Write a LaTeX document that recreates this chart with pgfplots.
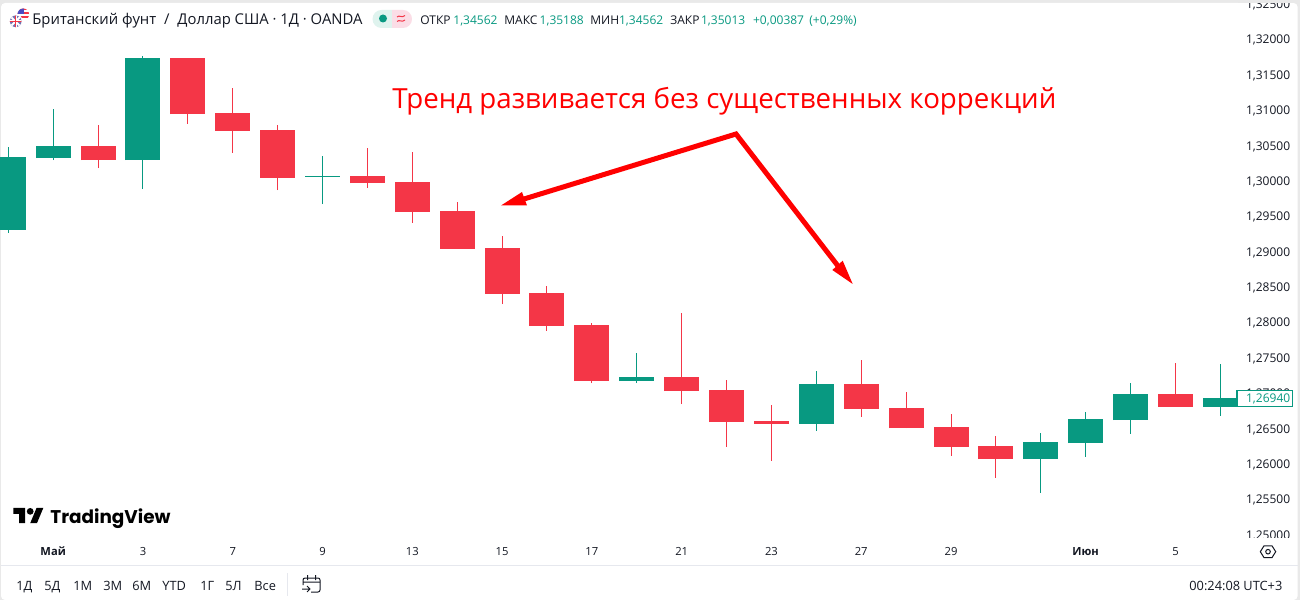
\documentclass[border=0pt]{standalone}
\usepackage{fontspec}
\setmainfont{Open Sans}
\newfontfamily\logofont{Poppins}
\usepackage{pgfplots}
\usepackage{pgfplotstable}
\pgfplotsset{compat=1.18}

\definecolor{tvgreen}{HTML}{089981}
\definecolor{tvred}{HTML}{F43647}
\definecolor{tvtext}{HTML}{131722}
\definecolor{tvline}{HTML}{E6E8EE}
\definecolor{tvband}{HTML}{E9E9E9}
\definecolor{pillgreen}{HTML}{DFF3EE}
\definecolor{pillred}{HTML}{FBDDE6}

% n = bar index, top/bot = body, hi/lo = wick (prices)
\pgfplotstableread{
n  hi      top     bot     lo
0  1.30467 1.30326 1.29294 1.29256
1  1.31004 1.30481 1.30311 1.30283
3  1.31753 1.31724 1.30283 1.29873
7  1.30340 1.30057 1.30043 1.29661
14 1.27556 1.27217 1.27160 1.27132
18 1.27302 1.27118 1.26553 1.26454
23 1.26426 1.26299 1.26058 1.25578
24 1.26722 1.26624 1.26284 1.26087
25 1.27132 1.26977 1.26609 1.26412
27 1.27401 1.26920 1.26793 1.26666
}\upbars
\pgfplotstableread{
n  hi      top     bot     lo
2  1.30778 1.30481 1.30283 1.30170
4  1.31724 1.31724 1.30933 1.30792
5  1.31301 1.30947 1.30693 1.30382
6  1.30778 1.30707 1.30029 1.29859
8  1.30453 1.30057 1.29958 1.29888
9  1.30396 1.29972 1.29548 1.29393
10 1.29690 1.29563 1.29026 1.29026
11 1.29209 1.29040 1.28390 1.28248
12 1.28503 1.28404 1.27938 1.27867
13 1.27980 1.27952 1.27160 1.27132
15 1.28121 1.27217 1.27019 1.26835
16 1.27175 1.27033 1.26581 1.26228
17 1.26821 1.26595 1.26553 1.26030
19 1.27457 1.27118 1.26765 1.26652
20 1.27005 1.26779 1.26496 1.26496
21 1.26694 1.26510 1.26228 1.26101
22 1.26383 1.26242 1.26058 1.25790
26 1.27415 1.26977 1.26793 1.26793
}\downbars

\newcommand{\candles}[2]{%
  \addplot[draw=none, mark=none, forget plot, error bars/.cd, y dir=plus, y explicit, error mark=none,
    error bar style={draw=#2, line width=0.5pt}]
    table[x=n, y=lo, y error expr=\thisrow{hi}-\thisrow{lo}] {#1};
  \addplot[draw=none, mark=none, forget plot, error bars/.cd, y dir=plus, y explicit, error mark=none,
    error bar style={draw=#2, line width=17.5pt}]
    table[x=n, y=bot, y error expr=\thisrow{top}-\thisrow{bot}] {#1};
}

\begin{document}
\begin{tikzpicture}
  % px grid of the screenshot
  \begin{scope}[shift={(0,300pt)}, x=0.5pt, y=-0.5pt]
    \fill[tvband] (0,0) rectangle (1300,600);
    \fill[white, rounded corners=2pt] (1,3) rectangle (1297.6,600);
  \end{scope}

  \begin{axis}[
    at={(0pt,27.5pt)}, anchor=south west,
    scale only axis, width=620pt, height=272.5pt,
    xmin=-0.185, xmax=27.438,
    ymin=1.24843, ymax=1.32544,
    axis line style={draw=none},
    major tick length=0pt,
    clip=true,
    ytick={1.25,1.255,1.26,1.265,1.27,1.275,1.28,1.285,1.29,1.295,1.3,1.305,1.31,1.315,1.32,1.325},
    ytick pos=right,
    scaled y ticks=false,
    yticklabel style={
      /pgf/number format/.cd, fixed, fixed zerofill, precision=5, use comma, 1000 sep={}, assume math mode=true,
      /tikz/.cd, anchor=base west, inner sep=0pt, xshift=2.8pt, yshift=-2.7pt, font=\fontsize{6}{7}\selectfont, text=tvtext},
    xtick={1,3,5,7,9,11,13,15,17,19,21,24,26},
    xticklabels={\bfseries Май,3,7,9,13,15,17,21,23,27,29,\bfseries Июн,5},
    xtick pos=bottom,
    xticklabel style={anchor=base, inner sep=0pt, yshift=-5pt, font=\fontsize{5.6}{7}\selectfont, text=tvtext},
  ]
    \candles{\upbars}{tvgreen}
    \candles{\downbars}{tvred}
  \end{axis}

  \begin{scope}[shift={(0,300pt)}, x=0.5pt, y=-0.5pt]
    % cut the clipped scale labels, separator
    \fill[tvband] (1238,-4) rectangle (1300,3);
    \fill[white] (1238,537.5) rectangle (1297,545);
    \draw[tvline, line width=0.5pt] (1,565) -- (1297.6,565);
    \draw[tvline, line width=0.5pt] (287.3,573) -- (287.3,596);

    % last price label
    \draw[tvgreen, fill=white, line width=0.6pt] (1237,390.5) rectangle (1292.5,406.5);
    \node[anchor=base west, inner sep=0pt, text=tvgreen, font=\fontsize{6}{7}\selectfont] at (1245.7,402) {1,26940};

    % annotation
    \node[anchor=base west, inner sep=0pt, text=red, font=\fontsize{13.85}{16}\selectfont] at (392,109) {Тренд развивается без существенных коррекций};
    \draw[red, line width=2.5pt, line join=miter] (524,199) -- (736,134) -- (838,266);
    \fill[red] (501,205.5) -- (522,192) -- (527,205.5) -- cycle;
    \fill[red] (852.7,284) -- (832.3,270) -- (842.7,260.7) -- cycle;

    % header
    \begin{scope}
      \clip (23.3,14.3) circle (5.8);
      \fill[white] (17,8) rectangle (30,21);
      \fill[tvred] (17,8) rectangle (30,10);
      \fill[tvred] (17,12) rectangle (30,14);
      \fill[tvred] (17,16) rectangle (30,18);
      \fill[blue!65!black!70] (17,8) rectangle (23.5,14.5);
    \end{scope}
    \fill[white] (15.7,21.3) circle (7);
    \begin{scope}
      \clip (15.7,21.3) circle (5.8);
      \fill[blue!45!black!55] (9,15) rectangle (22,28);
      \draw[white, line width=1pt] (9,15) -- (22,28) (22,15) -- (9,28);
      \draw[white, line width=1.2pt] (15.7,15) -- (15.7,28) (9,21.3) -- (22,21.3);
      \draw[tvred, line width=0.6pt] (15.7,15) -- (15.7,28) (9,21.3) -- (22,21.3);
    \end{scope}
    \node[anchor=base west, inner sep=0pt, text=tvtext, font=\fontsize{7.42}{9}\selectfont] at (32,25) {Британский фунт\kern2pt{} / \kern2pt{}Доллар США · 1Д · OANDA};
    \begin{scope}
      \clip[rounded corners=4.5pt] (372.5,10) rectangle (412,28);
      \fill[pillgreen] (372,9) rectangle (391.7,29);
      \fill[pillred] (391.7,9) rectangle (413,29);
    \end{scope}
    \fill[tvgreen] (383,18.5) circle (4);
    \draw[tvred, line width=0.5pt] (397,17) .. controls (399,14.5) and (402,18.5) .. (405,15.5)
      (397,21.5) .. controls (399,19) and (402,23) .. (405,20);
    \begin{scope}[every node/.style={anchor=base west, inner sep=0pt, font=\fontsize{6}{7}\selectfont}]
      \node[text=tvtext] at (420,25) {ОТКР};
      \node[text=tvgreen] at (453,25) {1,34562};
      \node[text=tvtext] at (504,25) {МАКС};
      \node[text=tvgreen] at (539.3,25) {1,35188};
      \node[text=tvtext] at (590,25) {МИН};
      \node[text=tvgreen] at (618.7,25) {1,34562};
      \node[text=tvtext] at (670,25) {ЗАКР};
      \node[text=tvgreen] at (700.7,25) {1,35013};
      \node[text=tvgreen] at (752.7,25) {+0,00387};
      \node[text=tvgreen] at (809,25) {(+0,29\%)};
    \end{scope}

    % logo
    \begin{scope}[shift={(13.3,504.6)}, x=0.4225pt, y=-0.4225pt]
      \fill[black] (14,22) -- (7,22) -- (7,11) -- (0,11) -- (0,4) -- (14,4) -- cycle;
      \fill[black] (28,22) -- (20,22) -- (27.5,4) -- (35.5,4) -- cycle;
      \fill[black] (20,8) circle (4);
    \end{scope}
    \node[anchor=base west, inner sep=0pt, text=black, font=\logofont\bfseries\fontsize{9.2}{12}\selectfont] at (50,523) {TradingView};

    % range buttons
    \begin{scope}[every node/.style={anchor=base west, inner sep=0pt, text=tvtext, font=\fontsize{6.4}{8}\selectfont}]
      \node at (16,590) {1Д};
      \node at (44,590) {5Д};
      \node at (73,590) {1М};
      \node at (103,590) {3М};
      \node at (132,590) {6М};
      \node at (162,590) {YTD};
      \node at (200,590) {1Г};
      \node at (225,590) {5Л};
      \node at (254,590) {Все};
      \node at (1189,590) {00:24:08 UTC+3};
    \end{scope}

    % calendar and settings icons
    \draw[tvtext, line width=0.5pt, rounded corners=1pt]
      (303,585) -- (303,578) -- (320,578) -- (320,592) -- (311,592);
    \draw[tvtext, line width=0.5pt] (303,582) -- (320,582) (307.5,575) -- (307.5,580) (315.5,575) -- (315.5,580)
      (302,589) -- (310,589) (307,586) -- (310,589) -- (307,592);
    \draw[tvtext, line width=0.5pt] (1260.3,551.7) -- (1264,545.8) -- (1272,545.8) -- (1275.7,551.7) -- (1272,557.6) -- (1264,557.6) -- cycle;
    \draw[tvtext, line width=0.5pt] (1268,551.7) circle (2.3);
  \end{scope}
  % page = the screenshot, whatever the clipped labels reach
  \pgfresetboundingbox
  \path[use as bounding box] (0,0) rectangle (650pt,300pt);
\end{tikzpicture}
\end{document}
